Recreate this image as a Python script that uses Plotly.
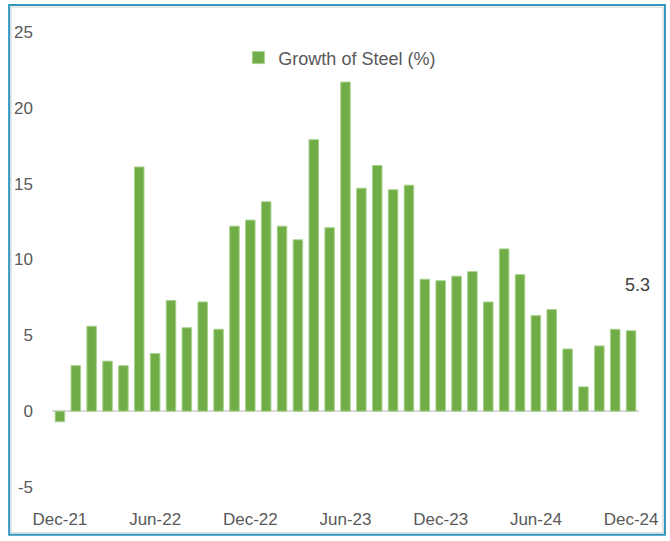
import plotly.graph_objects as go

months = ["Dec-21", "Jan-22", "Feb-22", "Mar-22", "Apr-22", "May-22", "Jun-22", "Jul-22",
          "Aug-22", "Sep-22", "Oct-22", "Nov-22", "Dec-22", "Jan-23", "Feb-23", "Mar-23",
          "Apr-23", "May-23", "Jun-23", "Jul-23", "Aug-23", "Sep-23", "Oct-23", "Nov-23",
          "Dec-23", "Jan-24", "Feb-24", "Mar-24", "Apr-24", "May-24", "Jun-24", "Jul-24",
          "Aug-24", "Sep-24", "Oct-24", "Nov-24", "Dec-24"]
steel_growth = [-0.7, 3.0, 5.6, 3.3, 3.0, 16.1, 3.8, 7.3, 5.5, 7.2, 5.4, 12.2, 12.6,
                13.8, 12.2, 11.3, 17.9, 12.1, 21.7, 14.7, 16.2, 14.6, 14.9, 8.7, 8.6,
                8.9, 9.2, 7.2, 10.7, 9.0, 6.3, 6.7, 4.1, 1.6, 4.3, 5.4, 5.3]
tick_labels = ["Dec-21", "Jun-22", "Dec-22", "Jun-23", "Dec-23", "Jun-24", "Dec-24"]
y_ticks = [-5, 0, 5, 10, 15, 20, 25]
y_tick_text = ["-5", "0", "5", "10", "15", "20", "25"]
series_name = "Growth of Steel (%)"
last_label = "5.3"

W, H = 670, 541
ML, MR, MT, MB = 52, 29, 32, 52
PW, PH = W - ML - MR, H - MT - MB

def px_x(p):
    return (p - ML) / PW

def px_y(p):
    return (H - MB - p) / PH

font_family = "Liberation Sans, Arial, sans-serif"

fig = go.Figure()
fig.add_trace(go.Bar(
    x=months, y=steel_growth, name=series_name,
    marker=dict(color="#70AD47", line=dict(color="#A9D18E", width=1)),
    width=0.6, showlegend=True,
))

fig.add_annotation(
    x=months[-1], y=steel_growth[-1], text=last_label, showarrow=False,
    xref="x", yref="y", yanchor="bottom", yshift=34, xshift=6,
    font=dict(family=font_family, size=18, color="#404040"),
)

fig.add_shape(type="rect", xref="paper", yref="paper",
              x0=px_x(11), x1=px_x(665), y0=px_y(535), y1=px_y(7),
              line=dict(color="#D4D4D4", width=1), layer="above")
fig.add_shape(type="rect", xref="paper", yref="paper",
              x0=px_x(9), x1=px_x(667), y0=px_y(537), y1=px_y(5),
              line=dict(color="#2F96C0", width=2), layer="above")

fig.update_layout(
    width=W, height=H,
    margin=dict(l=ML, r=MR, t=MT, b=MB),
    plot_bgcolor="white", paper_bgcolor="white",
    font=dict(family=font_family, color="#595959"),
    bargap=0.4,
    legend=dict(
        orientation="h", x=px_x(239), xanchor="left", y=px_y(58), yanchor="middle",
        font=dict(family=font_family, size=18, color="#595959"),
        bgcolor="rgba(0,0,0,0)", itemwidth=30,
    ),
    xaxis=dict(
        type="category", categoryorder="array", categoryarray=months,
        tickmode="array", tickvals=tick_labels, ticktext=tick_labels,
        showgrid=False, showline=False, ticks="", ticklabelstandoff=20,
        tickfont=dict(size=17, color="#595959"), range=[-0.5, len(months) - 0.5],
    ),
    yaxis=dict(
        range=[-5, 25], tickmode="array", tickvals=y_ticks, ticktext=y_tick_text,
        showgrid=False, showline=False, ticks="", ticklabelstandoff=18,
        zeroline=True, zerolinecolor="#D9D9D9", zerolinewidth=2,
        tickfont=dict(size=17, color="#595959"),
    ),
)

fig.write_html("out.html", config={"displayModeBar": False},
               post_script="document.body.style.margin='0px';")
